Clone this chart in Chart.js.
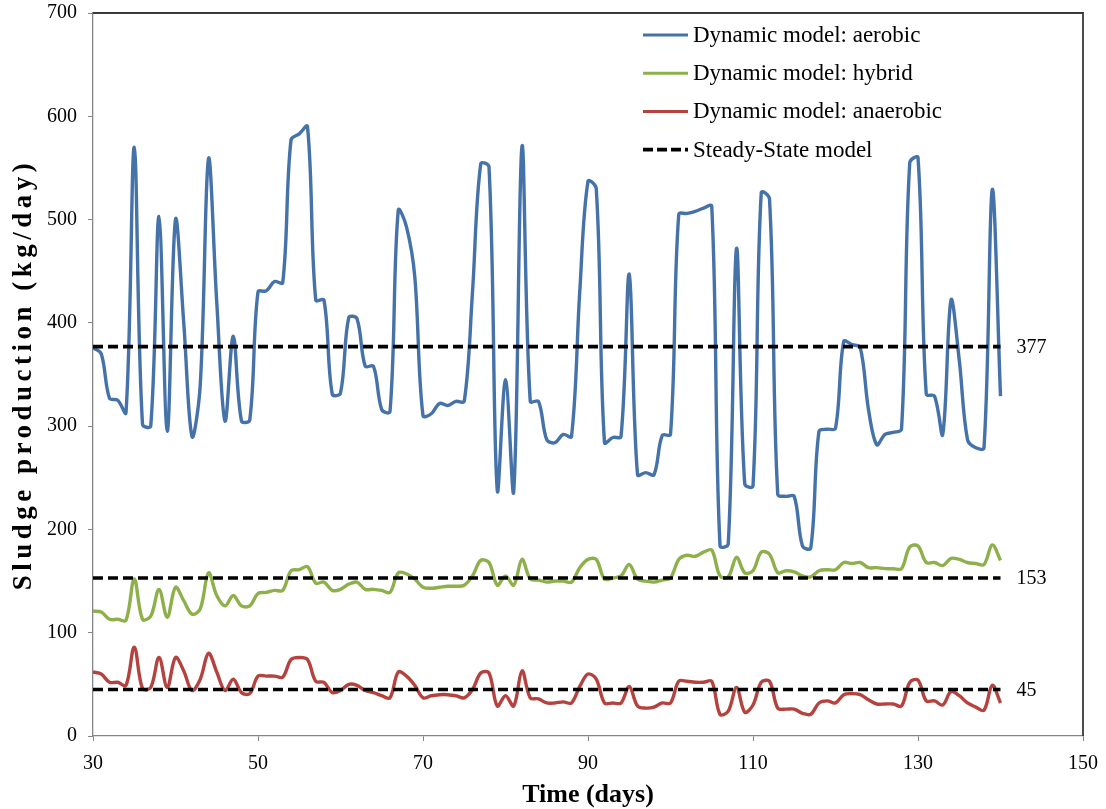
<!DOCTYPE html>
<html>
<head>
<meta charset="utf-8">
<title>Sludge production</title>
<script src="https://cdn.jsdelivr.net/npm/chart.js@4.4.1/dist/chart.umd.min.js"></script>
<style>
    body { margin: 0; background: #ffffff; }
    canvas { display: block; }
</style>
</head>
<body>
<canvas id="graficoLodo" width="1106" height="809"></canvas>
<script>
// days of the simulation (x axis)
const days = [
    30, 31, 32, 33, 34, 35, 36, 37, 38, 39, 40, 41, 42, 43, 44, 45, 46, 47, 48, 49,
    50, 51, 52, 53, 54, 55, 56, 57, 58, 59, 60, 61, 62, 63, 64, 65, 66, 67, 68, 69,
    70, 71, 72, 73, 74, 75, 76, 77, 78, 79, 80, 81, 82, 83, 84, 85, 86, 87, 88, 89,
    90, 91, 92, 93, 94, 95, 96, 97, 98, 99, 100, 101, 102, 103, 104, 105, 106, 107, 108, 109,
    110, 111, 112, 113, 114, 115, 116, 117, 118, 119, 120, 121, 122, 123, 124, 125, 126, 127, 128, 129,
    130, 131, 132, 133, 134, 135, 136, 137, 138, 139, 140
];

// Dynamic model: aerobic (kg/day)
const aerobic = [
    376, 370, 327, 325, 313, 570, 302, 300, 503, 295, 500, 400, 290, 340, 559, 420, 305, 387, 305, 306,
    430, 431, 440, 439, 577, 583, 590, 422, 422, 331, 332, 405, 404, 358, 358, 316, 314, 509, 493, 445,
    310, 312, 322, 320, 324, 324, 430, 554, 551, 238, 345, 237, 571, 324, 324, 287, 284, 292, 290, 430,
    537, 530, 284, 289, 290, 447, 253, 255, 253, 291, 292, 505, 506, 508, 511, 513, 184, 186, 472, 244,
    242, 526, 520, 234, 232, 232, 184, 182, 295, 297, 298, 382, 379, 376, 316, 282, 292, 294, 297, 555,
    560, 331, 329, 292, 422, 364, 287, 279, 279, 529, 329
];

// Dynamic model: hybrid (kg/day)
const hybrid = [
    121, 120, 113, 113, 112, 152, 113, 116, 142, 115, 144, 131, 118, 123, 158, 136, 126, 136, 126, 126,
    138, 139, 141, 141, 160, 161, 164, 148, 149, 141, 142, 147, 149, 142, 142, 141, 139, 158, 157, 152,
    144, 143, 144, 145, 145, 146, 155, 170, 168, 146, 155, 146, 171, 152, 151, 149, 150, 150, 149, 163,
    171, 171, 152, 153, 155, 166, 152, 150, 149, 151, 153, 171, 175, 174, 178, 180, 155, 154, 173, 158,
    160, 178, 176, 158, 160, 159, 155, 154, 160, 161, 161, 168, 167, 168, 163, 163, 162, 162, 162, 183,
    184, 168, 168, 165, 172, 171, 168, 167, 166, 185, 170
];

// Dynamic model: anaerobic (kg/day)
const anaerobic = [
    62, 60, 52, 52, 49, 86, 46, 47, 76, 47, 76, 63, 44, 55, 80, 62, 44, 55, 42, 41,
    58, 58, 58, 57, 74, 76, 74, 53, 52, 42, 44, 50, 49, 44, 42, 39, 37, 62, 58, 49,
    37, 39, 40, 40, 39, 37, 45, 61, 61, 29, 39, 29, 63, 37, 36, 32, 32, 33, 32, 48,
    60, 55, 32, 32, 32, 48, 29, 27, 28, 32, 32, 53, 53, 52, 52, 53, 21, 24, 47, 23,
    30, 52, 53, 27, 26, 26, 22, 21, 32, 34, 32, 40, 41, 40, 35, 31, 31, 31, 29, 52,
    54, 34, 34, 30, 43, 39, 32, 28, 25, 49, 32
];

// Steady-State model values
const steadyValues = [377, 153, 45];
const steadyDays = [30, 140];

const seriesNames = ['Dynamic model: aerobic', 'Dynamic model: hybrid', 'Dynamic model: anaerobic'];
const steadyName = 'Steady-State model';
const yTitle = 'Sludge production (kg/day)';

const serif = "'Liberation Serif', 'Times New Roman', serif";
const corAerobic = '#4572a9';
const corHybrid = '#8db04b';
const corAnaerobic = '#b4423e';

function toPoints(xs, ys) {
    return xs.map((x, i) => ({ x: x, y: ys[i] }));
}

function dynamicDataset(label, values, color) {
    return {
        label: label,
        data: toPoints(days, values),
        borderColor: color,
        backgroundColor: color,
        borderWidth: 3.4,
        pointRadius: 0,
        tension: 0.35,
        fill: false,
        order: 1
    };
}

let datasets = [
    dynamicDataset(seriesNames[0], aerobic, corAerobic),
    dynamicDataset(seriesNames[1], hybrid, corHybrid),
    dynamicDataset(seriesNames[2], anaerobic, corAnaerobic)
];

steadyValues.forEach(v => {
    datasets.push({
        label: steadyName,
        data: toPoints(steadyDays, [v, v]),
        borderColor: '#000000',
        borderWidth: 3.6,
        borderDash: [10, 5],
        pointRadius: 0,
        fill: false,
        order: 0
    });
});

// top and right frame lines
const framePlugin = {
    id: 'frame',
    afterDraw(chart) {
        const a = chart.chartArea;
        const ctx = chart.ctx;
        ctx.save();
        ctx.strokeStyle = '#3a3a3a';
        ctx.lineWidth = 1.8;
        ctx.beginPath();
        ctx.moveTo(a.left, a.top);
        ctx.lineTo(a.right, a.top);
        ctx.lineTo(a.right, a.bottom);
        ctx.stroke();
        ctx.restore();
    }
};

// vertical axis title (the original has wide letter spacing)
const yTitlePlugin = {
    id: 'yTitle',
    afterDraw(chart) {
        const a = chart.chartArea;
        const ctx = chart.ctx;
        ctx.save();
        ctx.translate(24, (a.top + a.bottom) / 2);
        ctx.rotate(-Math.PI / 2);
        ctx.font = 'bold 27px ' + serif;
        if ('letterSpacing' in ctx) ctx.letterSpacing = '4.5px';
        ctx.fillStyle = '#000000';
        ctx.textAlign = 'center';
        ctx.textBaseline = 'middle';
        ctx.fillText(yTitle, 0, 0);
        ctx.restore();
    }
};

// 377 / 153 / 45 labels at the end of the dashed lines
const steadyLabelPlugin = {
    id: 'steadyLabels',
    afterDatasetsDraw(chart) {
        const ctx = chart.ctx;
        const xs = chart.scales.x;
        const ys = chart.scales.y;
        ctx.save();
        ctx.font = '20px ' + serif;
        ctx.fillStyle = '#000000';
        ctx.textAlign = 'left';
        ctx.textBaseline = 'middle';
        steadyValues.forEach(v => {
            ctx.fillText(String(v), xs.getPixelForValue(steadyDays[1]) + 16, ys.getPixelForValue(v) + 1);
        });
        ctx.restore();
    }
};

// legend drawn inside the plot, top right
const legendPlugin = {
    id: 'legendInside',
    afterDraw(chart) {
        const ctx = chart.ctx;
        const a = chart.chartArea;
        const x0 = a.left + 550;
        const y0 = a.top + 22;
        const rowH = 38.2;
        const itens = [
            { text: seriesNames[0], color: corAerobic, dash: [] },
            { text: seriesNames[1], color: corHybrid, dash: [] },
            { text: seriesNames[2], color: corAnaerobic, dash: [] },
            { text: steadyName, color: '#000000', dash: [10, 4] }
        ];
        ctx.save();
        ctx.font = '23px ' + serif;
        ctx.textAlign = 'left';
        ctx.textBaseline = 'middle';
        itens.forEach((item, i) => {
            const y = y0 + i * rowH;
            ctx.beginPath();
            ctx.setLineDash(item.dash);
            ctx.strokeStyle = item.color;
            ctx.lineWidth = item.dash.length ? 3.6 : 3;
            ctx.moveTo(x0, y);
            ctx.lineTo(x0 + 45, y);
            ctx.stroke();
            ctx.setLineDash([]);
            ctx.fillStyle = '#000000';
            ctx.fillText(item.text, x0 + 50, y + 1);
        });
        ctx.restore();
    }
};

document.addEventListener('DOMContentLoaded', function () {
    let ctx = document.getElementById('graficoLodo').getContext('2d');
    new Chart(ctx, {
        type: 'line',
        data: { datasets: datasets },
        options: {
            responsive: false,
            animation: false,
            devicePixelRatio: 1,
            layout: { padding: { top: 13, right: 23, left: 0, bottom: 0 } },
            plugins: {
                legend: { display: false },
                tooltip: { enabled: false }
            },
            scales: {
                x: {
                    type: 'linear',
                    min: 30,
                    max: 150,
                    afterFit: function (scale) {
                        scale.height = 73;
                        scale.paddingLeft = 0;
                        scale.paddingRight = 0;
                    },
                    ticks: {
                        stepSize: 20,
                        color: '#000000',
                        padding: 11,
                        font: { family: serif, size: 20 }
                    },
                    grid: { drawOnChartArea: false, tickLength: 5, color: '#868686' },
                    border: { color: '#868686', width: 1.3 },
                    title: {
                        display: true,
                        text: 'Time (days)',
                        color: '#000000',
                        font: { family: serif, size: 26, weight: 'bold', lineHeight: 1 },
                        padding: { top: 0, bottom: 1 }
                    }
                },
                y: {
                    min: 0,
                    max: 700,
                    afterFit: function (scale) {
                        scale.width = 93;
                        scale.paddingTop = 0;
                        scale.paddingBottom = 0;
                    },
                    ticks: {
                        stepSize: 100,
                        color: '#000000',
                        padding: 11,
                        font: { family: serif, size: 20 }
                    },
                    grid: { drawOnChartArea: false, tickLength: 5, color: '#868686' },
                    border: { color: '#868686', width: 1.3 },
                    title: { display: false }
                }
            }
        },
        plugins: [framePlugin, yTitlePlugin, steadyLabelPlugin, legendPlugin]
    });
});
</script>
</body>
</html>
